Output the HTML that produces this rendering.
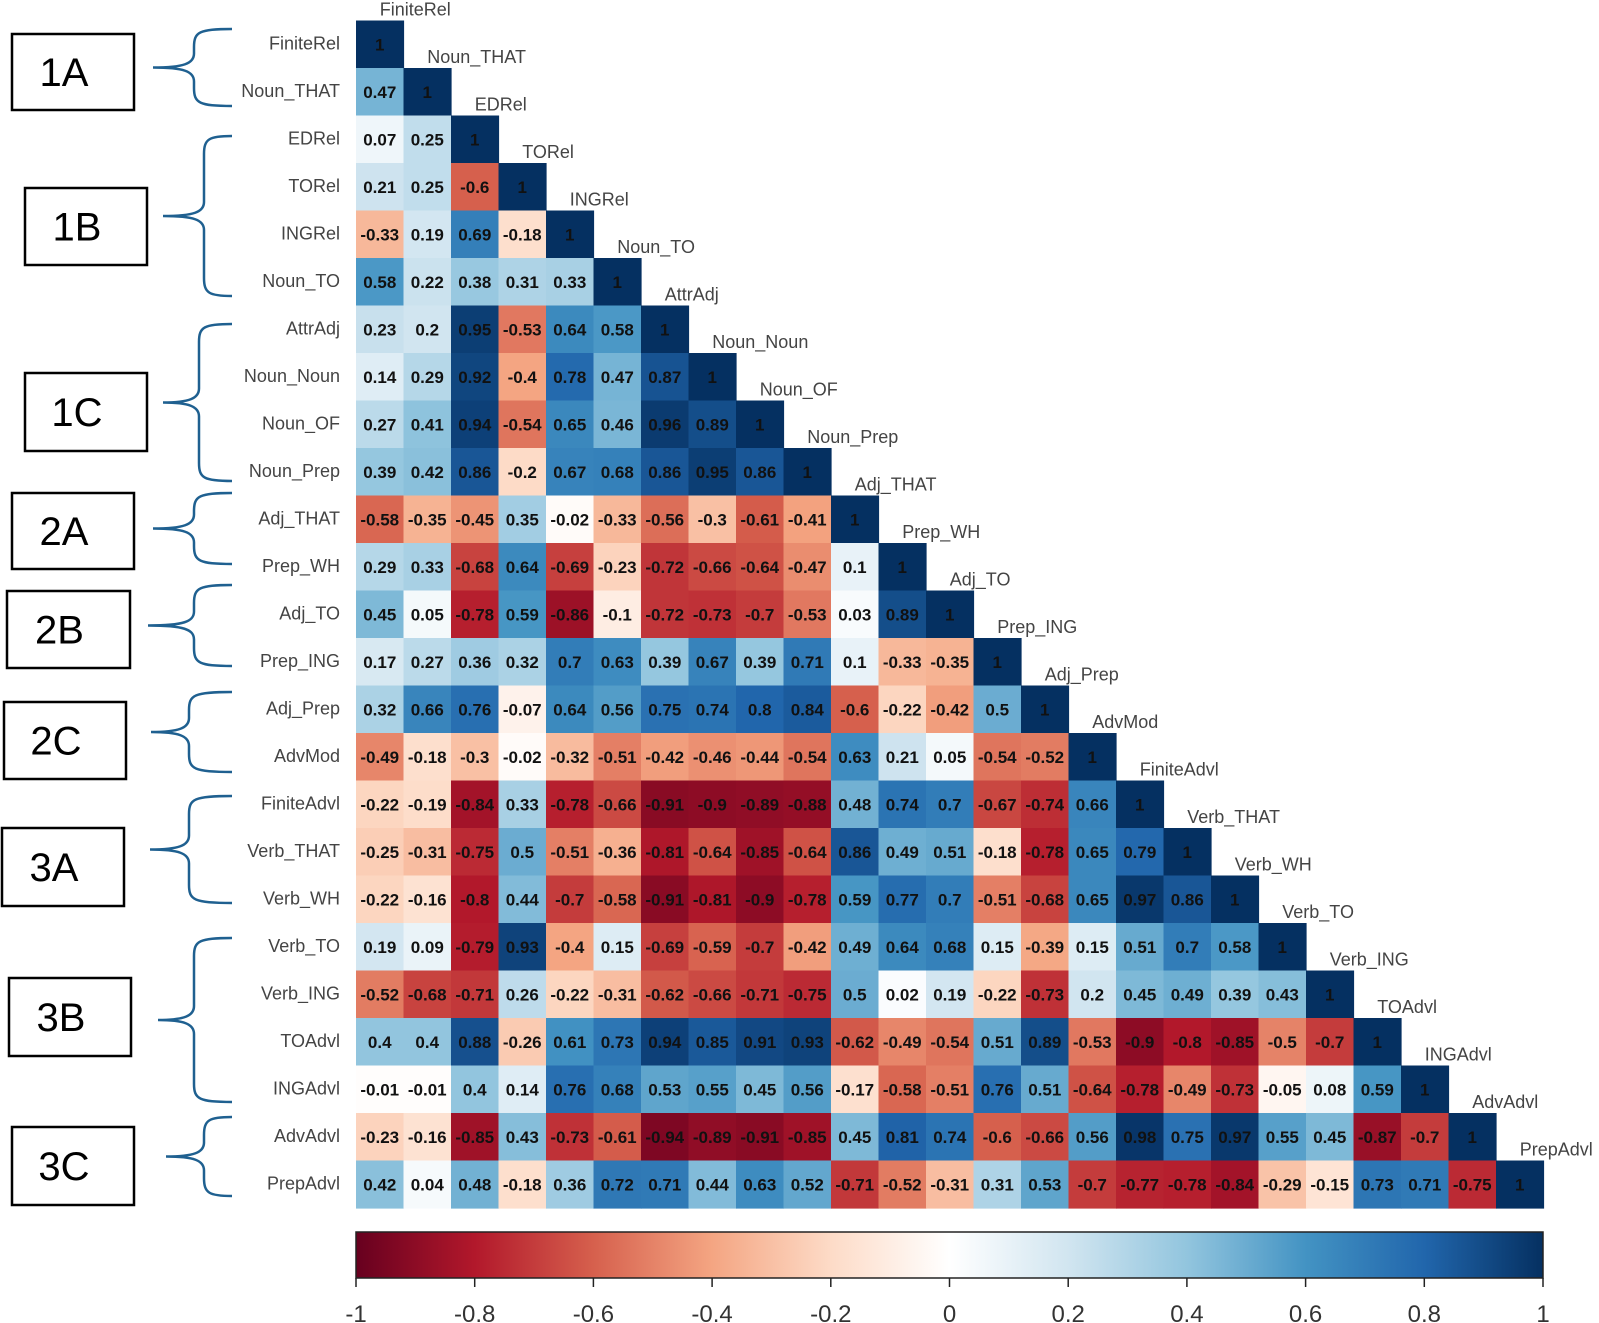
<!DOCTYPE html>
<html><head><meta charset="utf-8">
<style>html,body{margin:0;padding:0;background:#fff;}svg{display:block;}</style>
</head><body>
<svg id="s" width="1599" height="1323" viewBox="0 0 1599 1323" xmlns="http://www.w3.org/2000/svg" font-family="Liberation Sans, Arial, sans-serif"></svg>
<script>
const names=["FiniteRel","Noun_THAT","EDRel","TORel","INGRel","Noun_TO","AttrAdj","Noun_Noun","Noun_OF","Noun_Prep","Adj_THAT","Prep_WH","Adj_TO","Prep_ING","Adj_Prep","AdvMod","FiniteAdvl","Verb_THAT","Verb_WH","Verb_TO","Verb_ING","TOAdvl","INGAdvl","AdvAdvl","PrepAdvl"];
const R=[[],
[0.47],
[0.07,0.25],
[0.21,0.25,-0.6],
[-0.33,0.19,0.69,-0.18],
[0.58,0.22,0.38,0.31,0.33],
[0.23,0.2,0.95,-0.53,0.64,0.58],
[0.14,0.29,0.92,-0.4,0.78,0.47,0.87],
[0.27,0.41,0.94,-0.54,0.65,0.46,0.96,0.89],
[0.39,0.42,0.86,-0.2,0.67,0.68,0.86,0.95,0.86],
[-0.58,-0.35,-0.45,0.35,-0.02,-0.33,-0.56,-0.3,-0.61,-0.41],
[0.29,0.33,-0.68,0.64,-0.69,-0.23,-0.72,-0.66,-0.64,-0.47,0.1],
[0.45,0.05,-0.78,0.59,-0.86,-0.1,-0.72,-0.73,-0.7,-0.53,0.03,0.89],
[0.17,0.27,0.36,0.32,0.7,0.63,0.39,0.67,0.39,0.71,0.1,-0.33,-0.35],
[0.32,0.66,0.76,-0.07,0.64,0.56,0.75,0.74,0.8,0.84,-0.6,-0.22,-0.42,0.5],
[-0.49,-0.18,-0.3,-0.02,-0.32,-0.51,-0.42,-0.46,-0.44,-0.54,0.63,0.21,0.05,-0.54,-0.52],
[-0.22,-0.19,-0.84,0.33,-0.78,-0.66,-0.91,-0.9,-0.89,-0.88,0.48,0.74,0.7,-0.67,-0.74,0.66],
[-0.25,-0.31,-0.75,0.5,-0.51,-0.36,-0.81,-0.64,-0.85,-0.64,0.86,0.49,0.51,-0.18,-0.78,0.65,0.79],
[-0.22,-0.16,-0.8,0.44,-0.7,-0.58,-0.91,-0.81,-0.9,-0.78,0.59,0.77,0.7,-0.51,-0.68,0.65,0.97,0.86],
[0.19,0.09,-0.79,0.93,-0.4,0.15,-0.69,-0.59,-0.7,-0.42,0.49,0.64,0.68,0.15,-0.39,0.15,0.51,0.7,0.58],
[-0.52,-0.68,-0.71,0.26,-0.22,-0.31,-0.62,-0.66,-0.71,-0.75,0.5,0.02,0.19,-0.22,-0.73,0.2,0.45,0.49,0.39,0.43],
[0.4,0.4,0.88,-0.26,0.61,0.73,0.94,0.85,0.91,0.93,-0.62,-0.49,-0.54,0.51,0.89,-0.53,-0.9,-0.8,-0.85,-0.5,-0.7],
[-0.01,-0.01,0.4,0.14,0.76,0.68,0.53,0.55,0.45,0.56,-0.17,-0.58,-0.51,0.76,0.51,-0.64,-0.78,-0.49,-0.73,-0.05,0.08,0.59],
[-0.23,-0.16,-0.85,0.43,-0.73,-0.61,-0.94,-0.89,-0.91,-0.85,0.45,0.81,0.74,-0.6,-0.66,0.56,0.98,0.75,0.97,0.55,0.45,-0.87,-0.7],
[0.42,0.04,0.48,-0.18,0.36,0.72,0.71,0.44,0.63,0.52,-0.71,-0.52,-0.31,0.31,0.53,-0.7,-0.77,-0.78,-0.84,-0.29,-0.15,0.73,0.71,-0.75]];
const stops=["#67001F","#B2182B","#D6604D","#F4A582","#FDDBC7","#FFFFFF","#D1E5F0","#92C5DE","#4393C3","#2166AC","#053061"];
function hx(h){return [1,3,5].map(i=>parseInt(h.substr(i,2),16));}
function col(v){let t=(v+1)/0.2;let i=Math.min(9,Math.floor(t));let f=t-i;let a=hx(stops[i]),b=hx(stops[i+1]);
return "rgb("+a.map((x,k)=>Math.round(x+(b[k]-x)*f)).join(",")+")";}
const X0=356,Y0=20.5,C=47.5;
let h="";
for(let r=0;r<25;r++){
  for(let c=0;c<=r;c++){
    const v=(c==r)?1:R[r][c];
    const x=X0+c*C,y=Y0+r*C;
    h+=`<rect x="${x}" y="${y}" width="${C+0.6}" height="${C+0.6}" fill="${col(v)}"/>`;
    const s=(c==r)?"1":String(v);
    h+=`<text x="${x+C/2}" y="${y+C/2+6}" text-anchor="middle" font-size="17" font-weight="bold" fill="#111">${s}</text>`;
  }
  h+=`<text x="340" y="${Y0+r*C+C/2+5}" text-anchor="end" font-size="18" fill="#444">${names[r]}</text>`;
  h+=`<text x="${X0+r*C+C/2}" y="${Y0+r*C-5}" font-size="18" fill="#444">${names[r]}</text>`;
}
h+=`<defs><linearGradient id="g" x1="0" x2="1" y1="0" y2="0">${stops.map((s,i)=>`<stop offset="${i/10}" stop-color="${s}"/>`).join("")}</linearGradient></defs>`;
h+=`<rect x="356" y="1232" width="1187" height="46" fill="url(#g)" stroke="#222" stroke-width="1.5"/>`;
const tl=["-1","-0.8","-0.6","-0.4","-0.2","0","0.2","0.4","0.6","0.8","1"];
for(let i=0;i<11;i++){const x=356+i*1187/10;
h+=`<line x1="${x}" y1="1278" x2="${x}" y2="1287" stroke="#222" stroke-width="1.5"/>`;
h+=`<text x="${x}" y="1322" text-anchor="middle" font-size="24" fill="#333">${tl[i]}</text>`;}
const boxes=[["1A",11,34,133,110],["1B",24,188,146,265],["1C",24,373,146,451],["2A",11,493,133,569],["2B",6,591,129,668],["2C",3,702,125,779],["3A",1,828,123,906],["3B",8,978,130,1056],["3C",11,1127,133,1205]];
for(const b of boxes){h+=`<rect x="${b[1]+1}" y="${b[2]}" width="${b[3]-b[1]}" height="${b[4]-b[2]}" fill="none" stroke="#000" stroke-width="2.5"/>`;
h+=`<text x="${(b[1]+b[3])/2-8}" y="${(b[2]+b[4])/2+14}" text-anchor="middle" font-size="40" fill="#000">${b[0]}</text>`;}
const br=[[153,194,29,106],[163,204,136,296],[163,199,324,481],[153,194,493,564],[148,194,585,666],[151,189,692,772],[150,189,796,903],[158,194,938,1102],[166,204,1117,1196]];
for(const b of br){const[t,s,y1,y2]=b;const m=(y1+y2)/2,e=232;
h+=`<path d="M${e},${y1} C${s+5},${y1} ${s},${y1+3} ${s},${y1+18} L${s},${m-14} C${s},${m-4} ${s-10},${m} ${t},${m} C${s-10},${m} ${s},${m+4} ${s},${m+14} L${s},${y2-18} C${s},${y2-3} ${s+5},${y2} ${e},${y2}" fill="none" stroke="#1f6090" stroke-width="2.5"/>`;}
document.getElementById("s").innerHTML=h;
</script>
</body></html>
